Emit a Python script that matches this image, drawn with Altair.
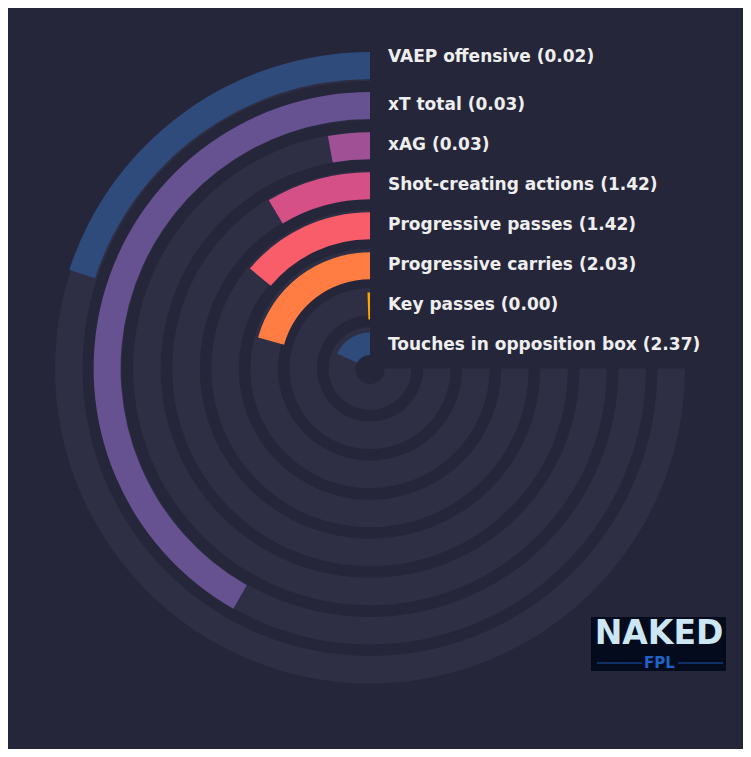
import math
import altair as alt
import pandas as pd

# ---- data ----
metrics = [
    "Touches in opposition box",
    "Key passes",
    "Progressive carries",
    "Progressive passes",
    "Shot-creating actions",
    "xAG",
    "xT total",
    "VAEP offensive",
]
values = [2.37, 0.00, 2.03, 1.42, 1.42, 0.03, 0.03, 0.02]
# share of the 270-degree track filled by each bar (percent)
fill_pct = [24.3, 0.7, 27.6, 18.6, 11.5, 3.8, 55.7, 26.6]
bar_colors = ["#2f4b7c", "#ffa600", "#ff7c43", "#f95d6a",
              "#d45087", "#a05195", "#665191", "#2f4b7c"]

BG = "#252639"
TRACK = "#2e2f44"
TEXT = "#eeeeee"

df = pd.DataFrame({
    "metric": metrics,
    "value": values,
    "pct": fill_pct,
    "ring": list(range(len(metrics))),
})
df["label"] = [f"{m} ({v:.2f})" for m, v in zip(metrics, values)]

CX, CY = 362, 360.5

theta_scale = alt.Scale(domain=[0, 100], range=[2 * math.pi, math.pi / 2])

base = alt.Chart(df).transform_calculate(
    start="0", full="100",
    ring_in_track="datum.ring - 0.704",
    ring_in_bar="datum.ring - 0.674",
    label_pos="datum.ring == 7 ? 7.2 : datum.ring",
)

tracks = base.mark_arc(color=TRACK).encode(
    x=alt.value(CX), y=alt.value(CY),
    theta=alt.Theta("start:Q", scale=theta_scale, stack=None),
    theta2="full:Q",
    radius=alt.Radius("ring:Q", scale=alt.Scale(type="linear", domain=[0, 7], range=[41.5, 315], zero=False)),
    radius2="ring_in_track:Q",
)

bars = base.mark_arc().encode(
    x=alt.value(CX), y=alt.value(CY),
    theta=alt.Theta("pct:Q", scale=theta_scale, stack=None),
    theta2="start:Q",
    radius=alt.Radius("ring:Q", scale=alt.Scale(type="linear", domain=[0, 7], range=[36, 316.5], zero=False)),
    radius2="ring_in_bar:Q",
    color=alt.Color("metric:N", scale=alt.Scale(domain=metrics, range=bar_colors), legend=None),
)

labels = base.mark_text(
    align="left", baseline="middle", font="DejaVu Sans",
    fontWeight="bold", fontSize=17, color=TEXT,
).encode(
    x=alt.value(380),
    y=alt.Y("label_pos:Q", scale=alt.Scale(domain=[0, 7], range=[337, 57]), axis=None),
    text="label:N",
)

one = pd.DataFrame({"k": [0]})
hole = alt.Chart(one).mark_arc(color=BG).encode(
    x=alt.value(CX), y=alt.value(CY + 1),
    theta=alt.value(0), theta2=alt.value(2 * math.pi),
    radius=alt.value(14.5),
)

logo_box = alt.Chart(one).mark_rect(color="#030b1c").encode(
    x=alt.value(583), x2=alt.value(718), y=alt.value(609), y2=alt.value(663),
)
logo_word = alt.Chart(one).mark_text(
    text="NAKED", font="DejaVu Sans", fontWeight="bold", fontSize=33,
    color="#cde6f4", align="center", baseline="middle",
).encode(x=alt.value(651), y=alt.value(626))
logo_fpl = alt.Chart(one).mark_text(
    text="FPL", font="DejaVu Sans", fontWeight="bold", fontSize=15,
    color="#1f63c8", align="center", baseline="middle",
).encode(x=alt.value(651.5), y=alt.value(654.5))
logo_l = alt.Chart(one).mark_rule(color="#1f55b0", strokeWidth=1).encode(
    x=alt.value(589), x2=alt.value(634), y=alt.value(655))
logo_r = alt.Chart(one).mark_rule(color="#1f55b0", strokeWidth=1).encode(
    x=alt.value(670), x2=alt.value(715), y=alt.value(655))

chart = alt.layer(
    tracks, bars, hole, labels, logo_box, logo_word, logo_fpl, logo_l, logo_r
).resolve_scale(
    radius="independent"
).properties(
    width=735, height=741, background=BG, padding=0, autosize="none",
).configure_view(stroke=None)

chart.save("out.html", embed_options={"renderer": "svg", "actions": False})
